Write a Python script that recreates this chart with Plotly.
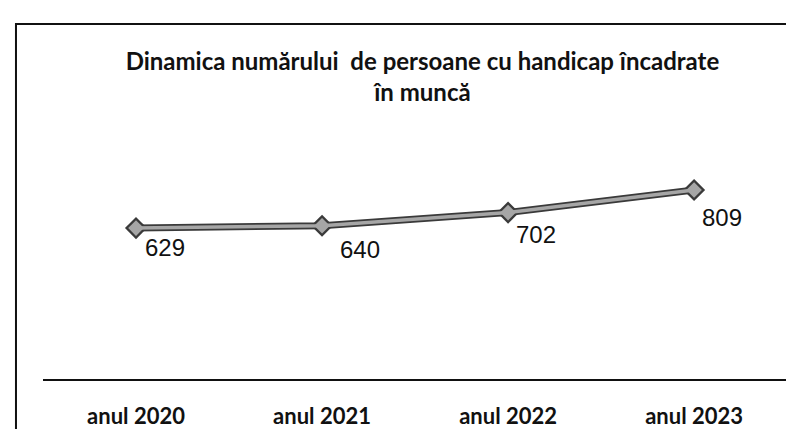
import plotly.graph_objects as go

categories = ["anul 2020", "anul 2021", "anul 2022", "anul 2023"]
values = [629, 640, 702, 809]
labels = ["629", "640", "702", "809"]
title_text = "Dinamica numărului  de persoane cu handicap încadrate<br>în muncă"

fig = go.Figure()
# dark outline of the line
fig.add_trace(go.Scatter(x=categories, y=values, mode="lines+markers",
                         line=dict(color="#3a3a3a", width=7),
                         marker=dict(symbol="diamond", size=17, color="#3a3a3a"),
                         hoverinfo="skip", showlegend=False))
# grey inner line
fig.add_trace(go.Scatter(x=categories, y=values, mode="lines+markers",
                         line=dict(color="#a6a6a6", width=3.5),
                         marker=dict(symbol="diamond", size=12, color="#a6a6a6"),
                         showlegend=False))

offsets = [(29, -19), (38, -24), (28, -22), (28, -28)]
for c, v, t, (dx, dy) in zip(categories, values, labels, offsets):
    fig.add_annotation(x=c, y=v, text=t, showarrow=False, xshift=dx, yshift=dy,
                       font=dict(family="Liberation Sans, Arial", size=24, color="#111"))

fig.add_shape(type="rect", xref="paper", yref="paper", x0=-0.0356, x1=1.05,
              y0=-0.5, y1=1.4727, line=dict(color="#111", width=2), layer="below")

fig.update_layout(
    width=794, height=429,
    margin=dict(l=35, r=0, t=130, b=58, autoexpand=False),
    paper_bgcolor="white", plot_bgcolor="white",
    title=dict(text="<b>" + title_text + "</b>", x=0.522, xanchor="center", y=0.856, yanchor="middle",
               font=dict(family="Lato", size=24, color="#111")),
    xaxis=dict(type="category", range=[-0.5, 3.58], showline=True, linecolor="#111", linewidth=2,
               showgrid=False, zeroline=False, ticks="outside", ticklen=17, tickcolor="rgba(0,0,0,0)",
               automargin=False,
               tickfont=dict(family="Lato", size=22, color="#111", weight="bold")),
    yaxis=dict(range=[-83, 1054], visible=False, showgrid=False, automargin=False),
)

fig.write_html("out.html")
